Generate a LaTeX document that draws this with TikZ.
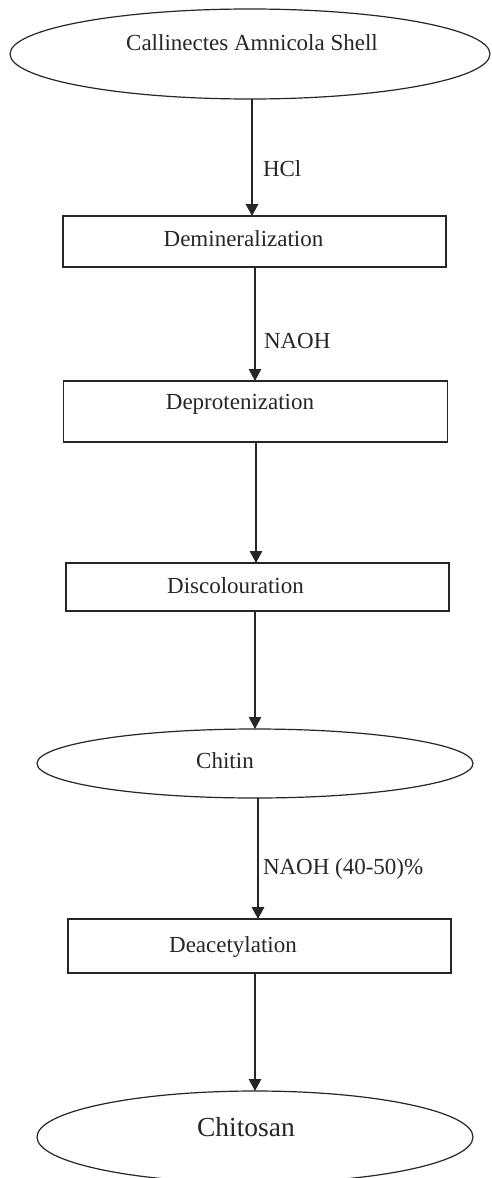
\documentclass[tikz,border=0pt]{standalone}
\usepackage{fontspec}
\setmainfont{Liberation Serif}
\usetikzlibrary{arrows.meta,shapes.geometric}
\definecolor{ink}{HTML}{262626}
\begin{document}
\begin{tikzpicture}[x=1pt,y=-1pt,
  every node/.style={inner sep=0pt, outer sep=0pt},
  boxnode/.style={draw=ink, line width=1.2pt, rectangle},
  ovalnode/.style={draw=ink, line width=1.2pt, ellipse},
  txt/.style={anchor=base, text=ink, font=\fontsize{23}{27}\selectfont},
  bigtxt/.style={anchor=base, text=ink, font=\fontsize{27.5}{31}\selectfont},
  lbl/.style={anchor=base west, text=ink, font=\fontsize{23}{27}\selectfont},
  arr/.style={draw=ink, line width=1.1pt, -{Triangle[length=12pt,width=12.5pt]}},
  arrb/.style={arr, line width=1.7pt}
]
\useasboundingbox (0,0) rectangle (491,1178);
\fill[white] (0,0) rectangle (491,1178);

% shapes
\node[ovalnode, minimum width=480pt, minimum height=90pt] (shell) at (250,54) {};
\node[boxnode, minimum width=383pt, minimum height=51pt] (demin) at (254.5,241.5) {};
\node[boxnode, minimum width=384pt, minimum height=61pt] (deprot) at (255.5,411.5) {};
\node[boxnode, minimum width=383pt, minimum height=48pt] (discol) at (257.5,587) {};
\node[ovalnode, minimum width=436pt, minimum height=69pt] (chitin) at (255,763.5) {};
\node[boxnode, minimum width=383pt, minimum height=54pt] (deacet) at (259.5,946) {};
\node[ovalnode, minimum width=436pt, minimum height=92pt] (chitosan) at (255,1137) {};

% texts
\node[txt] (tshell) at (252,50) {Callinectes Amnicola Shell};
\node[txt] (tdemin) at (243.5,246.5) {Demineralization};
\node[txt] (tdeprot) at (240,409) {Deprotenization};
\node[txt] (tdiscol) at (235.5,593) {Discolouration};
\node[txt] (tchitin) at (225,768) {Chitin};
\node[txt] (tdeacet) at (233,952) {Deacetylation};
\node[bigtxt] (tchitosan) at (246,1136) {Chitosan};

% connectors
\draw[arrb] ([xshift=2pt]shell.south) -- ([xshift=2pt]shell.south |- demin.north);
\draw[arr] ([xshift=0.5pt]demin.south) -- ([xshift=0.5pt]demin.south |- deprot.north);
\draw[arr] ([xshift=0.5pt]deprot.south) -- ([xshift=0.5pt]deprot.south |- discol.north);
\draw[arr] ([xshift=-2.5pt]discol.south) -- ([xshift=-2.5pt]discol.south |- chitin.north);
\draw[arrb] ([xshift=3pt]chitin.south) -- ([xshift=3pt]chitin.south |- deacet.north);
\draw[arr] ([xshift=-4.5pt]deacet.south) -- ([xshift=-4.5pt]deacet.south |- chitosan.north);

% connector labels
\node[lbl] (lhcl) at (263,176) {HCl};
\node[lbl] (lnaoh) at (264,348) {NAOH};
\node[lbl] (lnaoh2) at (263,874) {NAOH (40-50)\%};
\end{tikzpicture}
\end{document}
